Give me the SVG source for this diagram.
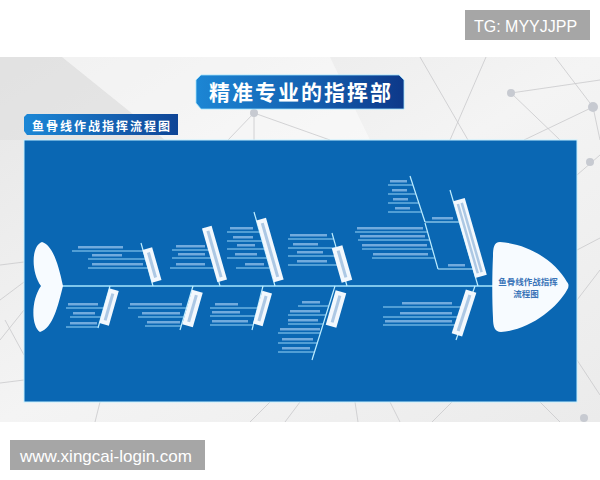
<svg xmlns="http://www.w3.org/2000/svg" width="600" height="480" viewBox="0 0 600 480">
<defs>
<linearGradient id="bg" x1="0" y1="0" x2="1" y2="1"><stop offset="0" stop-color="#e6e6e6"/><stop offset="0.5" stop-color="#f4f4f4"/><stop offset="1" stop-color="#ebebeb"/></linearGradient>
<linearGradient id="ttl" x1="0" y1="0" x2="1" y2="0"><stop offset="0" stop-color="#1c86d4"/><stop offset="0.55" stop-color="#1460b0"/><stop offset="1" stop-color="#0d3889"/></linearGradient>
<linearGradient id="sub" x1="0" y1="0" x2="1" y2="0"><stop offset="0" stop-color="#1b87d6"/><stop offset="1" stop-color="#0f4596"/></linearGradient>
<style>
.wm{fill:#a6a6a6}
.wmt{fill:#ffffff;font-family:"Liberation Sans",Arial,sans-serif}
.net{stroke:#c9c9cc;stroke-width:0.8;fill:none}
.nd{fill:#c7cad1}
.sp{stroke:#a6e6ff;stroke-width:1.6;fill:none}
.bone{stroke:#bfeeff;stroke-width:1.2;fill:none}
.ln{stroke:#a9e2ff;stroke-width:0.9;fill:none}
.tx{fill:#c8e4ff;opacity:0.55}
.box{fill:#f3f8fd}
.boxt{fill:#8fb3d8;opacity:0.7}
.cn{font-family:"Noto Sans CJK SC","Noto Sans CJK TC",sans-serif;font-weight:bold}
</style>
</defs>

<rect x="0" y="0" width="600" height="480" fill="#ffffff"/>
<rect x="0" y="57" width="600" height="365" fill="url(#bg)"/>
<polygon points="0,57 62,57 165,140 0,140" fill="#e0e0e0" opacity="0.6"/>
<polygon points="62,57 330,57 370,140 165,140" fill="#ffffff" opacity="0.45"/>

<g id="network">
<line class="net" x1="254" y1="113" x2="228" y2="140"/>
<line class="net" x1="254" y1="113" x2="254" y2="140"/>
<line class="net" x1="254" y1="113" x2="330" y2="140"/>
<line class="net" x1="486" y1="57" x2="450" y2="140"/>
<line class="net" x1="511" y1="93" x2="600" y2="80"/>
<line class="net" x1="555" y1="57" x2="593" y2="107"/>
<line class="net" x1="593" y1="107" x2="524" y2="140"/>
<line class="net" x1="593" y1="107" x2="600" y2="140"/>
<line class="net" x1="511" y1="93" x2="560" y2="140"/>
<line class="net" x1="420" y1="57" x2="468" y2="140"/>
<line class="net" x1="0" y1="265" x2="24" y2="262"/>
<line class="net" x1="0" y1="300" x2="24" y2="282"/>
<line class="net" x1="0" y1="340" x2="24" y2="310"/>
<line class="net" x1="0" y1="383" x2="24" y2="380"/>
<line class="net" x1="5" y1="320" x2="24" y2="355"/>
<line class="net" x1="577" y1="175" x2="600" y2="155"/>
<line class="net" x1="577" y1="250" x2="600" y2="238"/>
<line class="net" x1="577" y1="300" x2="600" y2="270"/>
<line class="net" x1="577" y1="360" x2="600" y2="395"/>
<line class="net" x1="95" y1="422" x2="100" y2="402"/>
<line class="net" x1="250" y1="422" x2="270" y2="402"/>
<line class="net" x1="285" y1="422" x2="300" y2="402"/>
<line class="net" x1="358" y1="422" x2="355" y2="402"/>
<line class="net" x1="400" y1="422" x2="390" y2="402"/>
<line class="net" x1="432" y1="422" x2="452" y2="402"/>
<line class="net" x1="540" y1="402" x2="560" y2="422"/>
<circle class="nd" cx="254" cy="113" r="4"/>
<circle class="nd" cx="511" cy="93" r="4"/>
<circle class="nd" cx="593" cy="107" r="5"/>
<circle class="nd" cx="590" cy="162" r="4"/>
<circle class="nd" cx="584" cy="418" r="4"/>
</g>

<g id="title">
<polygon points="201,75 399,75 404,80 404,109 201,109 196,103 196,80" fill="url(#ttl)" stroke="#9fe3ff" stroke-width="0.8"/>
<text class="cn" x="209" y="100" font-size="21" letter-spacing="2" fill="#ffffff">精准专业的指挥部</text>
</g>

<g id="subtitle">
<polygon points="27,114 178,114 178,135 27,135 24,131 24,117" fill="url(#sub)"/>
<text class="cn" x="32" y="130.5" font-size="12" letter-spacing="2" fill="#ffffff">鱼骨线作战指挥流程图</text>
</g>

<rect id="panel" x="24" y="140" width="553" height="262" fill="#0a67b3" stroke="#c4f0ff" stroke-width="1"/>

<g id="connectors">
<line class="sp" x1="60" y1="286" x2="496" y2="286"/>
<line class="bone" x1="141" y1="243" x2="153" y2="286"/>
<line class="bone" x1="204" y1="228" x2="220" y2="286"/>
<line class="bone" x1="254" y1="212" x2="275" y2="286"/>
<line class="bone" x1="332" y1="233" x2="347" y2="286"/>
<line class="bone" x1="450" y1="190" x2="478" y2="286"/>
<line class="bone" x1="410" y1="176" x2="425" y2="222"/>
<line class="bone" x1="425" y1="222" x2="460" y2="222"/>
<line class="bone" x1="425" y1="223" x2="438" y2="269"/>
<line class="bone" x1="438" y1="269" x2="473" y2="269"/>
<line class="bone" x1="110" y1="286" x2="98" y2="328"/>
<line class="bone" x1="193" y1="286" x2="180" y2="330"/>
<line class="bone" x1="263" y1="286" x2="252" y2="330"/>
<line class="bone" x1="335" y1="286" x2="312" y2="360"/>
<line class="bone" x1="475" y1="286" x2="456" y2="340"/>
<line class="ln" x1="72" y1="251" x2="143" y2="251"/>
<line class="ln" x1="88" y1="259" x2="145.5" y2="259"/>
<line class="ln" x1="88" y1="268" x2="148" y2="268"/>
<line class="ln" x1="172" y1="250" x2="210" y2="250"/>
<line class="ln" x1="172" y1="258" x2="212" y2="258"/>
<line class="ln" x1="170" y1="268" x2="215" y2="268"/>
<line class="ln" x1="227" y1="232" x2="260" y2="232"/>
<line class="ln" x1="227" y1="241" x2="262.4" y2="241"/>
<line class="ln" x1="227" y1="249" x2="264.7" y2="249"/>
<line class="ln" x1="227" y1="258" x2="267" y2="258"/>
<line class="ln" x1="236" y1="268" x2="270" y2="268"/>
<line class="ln" x1="288" y1="239" x2="333.7" y2="239"/>
<line class="ln" x1="288" y1="248" x2="336" y2="248"/>
<line class="ln" x1="288" y1="256" x2="338.5" y2="256"/>
<line class="ln" x1="288" y1="265" x2="341" y2="265"/>
<line class="ln" x1="388" y1="185" x2="413" y2="185"/>
<line class="ln" x1="388" y1="194" x2="416" y2="194"/>
<line class="ln" x1="388" y1="203" x2="419" y2="203"/>
<line class="ln" x1="388" y1="212" x2="422" y2="212"/>
<line class="ln" x1="355" y1="232" x2="427.5" y2="232"/>
<line class="ln" x1="358" y1="240" x2="430" y2="240"/>
<line class="ln" x1="362" y1="249" x2="432.4" y2="249"/>
<line class="ln" x1="372" y1="258" x2="435" y2="258"/>
<line class="ln" x1="66" y1="308" x2="103.7" y2="308"/>
<line class="ln" x1="70" y1="317" x2="101" y2="317"/>
<line class="ln" x1="66" y1="327" x2="98.3" y2="327"/>
<line class="ln" x1="128" y1="308" x2="186.4" y2="308"/>
<line class="ln" x1="138" y1="317" x2="183.7" y2="317"/>
<line class="ln" x1="145" y1="326" x2="181" y2="326"/>
<line class="ln" x1="210" y1="308" x2="257.5" y2="308"/>
<line class="ln" x1="210" y1="316" x2="255.5" y2="316"/>
<line class="ln" x1="210" y1="325" x2="253" y2="325"/>
<line class="ln" x1="298" y1="306" x2="329" y2="306"/>
<line class="ln" x1="288" y1="315" x2="326" y2="315"/>
<line class="ln" x1="288" y1="324" x2="323.6" y2="324"/>
<line class="ln" x1="278" y1="333" x2="321" y2="333"/>
<line class="ln" x1="278" y1="343" x2="318" y2="343"/>
<line class="ln" x1="278" y1="352" x2="315" y2="352"/>
<line class="ln" x1="383" y1="307" x2="467.7" y2="307"/>
<line class="ln" x1="383" y1="317" x2="464" y2="317"/>
<line class="ln" x1="383" y1="325" x2="461.5" y2="325"/>
</g>

<g id="tail">
<path d="M63,286 C58,262 52,245 42,242 C31,246 31,272 41,286 C31,300 31,326 40,332 C53,328 58,306 63,286 Z" fill="#f7fbff"/>
</g>

<g id="head">
<path d="M500,242 C494,242 493,248 493,256 C492,276 492,300 493,318 C493,327 495,332 501,332 C530,330 557,308 567,290 C569,287 569,284 567,282 C556,262 530,244 500,242 Z" fill="#f7fbff"/>
<text class="cn" x="528" y="285" font-size="8.5" text-anchor="middle" fill="#3a74b8">鱼骨线作战指挥</text>
<text class="cn" x="526" y="297" font-size="8.5" text-anchor="middle" fill="#3a74b8">流程图</text>
</g>

<g id="bone-u1">
<g transform="translate(152,265) rotate(74)"><rect class="box" x="-17" y="-5" width="34" height="10"/><rect class="boxt" x="-13" y="-1.5" width="26" height="3"/></g>
<rect class="tx" x="78" y="246" width="45" height="2.5"/>
<rect class="tx" x="92" y="254" width="30" height="2.5"/>
<rect class="tx" x="92" y="263" width="51" height="2.5"/>
</g>
<g id="bone-u2">
<g transform="translate(214.5,254) rotate(74)"><rect class="box" x="-28" y="-5" width="56" height="10"/><rect class="boxt" x="-24" y="-1.5" width="48" height="3"/></g>
<rect class="tx" x="176" y="245" width="29" height="2.5"/>
<rect class="tx" x="178" y="253" width="27" height="2.5"/>
<rect class="tx" x="176" y="263" width="29" height="2.5"/>
</g>
<g id="bone-u3">
<g transform="translate(270,250) rotate(74)"><rect class="box" x="-32" y="-5" width="64" height="10"/><rect class="boxt" x="-28" y="-1.5" width="56" height="3"/></g>
<rect class="tx" x="230" y="227" width="23" height="2.5"/>
<rect class="tx" x="233" y="236" width="20" height="2.5"/>
<rect class="tx" x="237" y="244" width="18" height="2.5"/>
<rect class="tx" x="235" y="253" width="22" height="2.5"/>
<rect class="tx" x="245" y="263" width="19" height="2.5"/>
</g>
<g id="bone-u4">
<g transform="translate(342,264) rotate(74)"><rect class="box" x="-18" y="-5.5" width="36" height="11"/><rect class="boxt" x="-14" y="-1.5" width="28" height="3"/></g>
<rect class="tx" x="290" y="234" width="37" height="2.5"/>
<rect class="tx" x="293" y="243" width="25" height="2.5"/>
<rect class="tx" x="297" y="251" width="26" height="2.5"/>
<rect class="tx" x="297" y="260" width="30" height="2.5"/>
</g>
<g id="bone-u5">
<g transform="translate(470,238) rotate(74)"><rect class="box" x="-40" y="-6" width="80" height="12"/><rect class="boxt" x="-36" y="-3" width="72" height="2.5"/><rect class="boxt" x="-36" y="1" width="72" height="2.5"/></g>
<rect class="tx" x="432" y="217" width="21" height="2.5"/>
<rect class="tx" x="448" y="264" width="17" height="2.5"/>
<rect class="tx" x="390" y="180" width="17" height="2.5"/>
<rect class="tx" x="392" y="189" width="15" height="2.5"/>
<rect class="tx" x="393" y="198" width="15" height="2.5"/>
<rect class="tx" x="395" y="207" width="15" height="2.5"/>
<rect class="tx" x="357" y="227" width="66" height="2.5"/>
<rect class="tx" x="360" y="235" width="65" height="2.5"/>
<rect class="tx" x="362" y="244" width="65" height="2.5"/>
<rect class="tx" x="373" y="253" width="55" height="2.5"/>
</g>
<g id="bone-l1">
<g transform="translate(109,307) rotate(-74)"><rect class="box" x="-18" y="-5" width="36" height="10"/><rect class="boxt" x="-14" y="-1.5" width="28" height="3"/></g>
<rect class="tx" x="68" y="303" width="30" height="2.5"/>
<rect class="tx" x="73" y="312" width="22" height="2.5"/>
<rect class="tx" x="70" y="322" width="27" height="2.5"/>
</g>
<g id="bone-l2">
<g transform="translate(192.5,308.5) rotate(-74)"><rect class="box" x="-18" y="-5.5" width="36" height="11"/><rect class="boxt" x="-14" y="-1.5" width="28" height="3"/></g>
<rect class="tx" x="130" y="303" width="52" height="2.5"/>
<rect class="tx" x="142" y="312" width="38" height="2.5"/>
<rect class="tx" x="147" y="321" width="33" height="2.5"/>
</g>
<g id="bone-l3">
<g transform="translate(262.5,308.5) rotate(-74)"><rect class="box" x="-17" y="-5" width="34" height="10"/><rect class="boxt" x="-13" y="-1.5" width="26" height="3"/></g>
<rect class="tx" x="215" y="303" width="23" height="2.5"/>
<rect class="tx" x="212" y="311" width="28" height="2.5"/>
<rect class="tx" x="212" y="320" width="36" height="2.5"/>
</g>
<g id="bone-l4">
<g transform="translate(336,309) rotate(-74)"><rect class="box" x="-18" y="-5.5" width="36" height="11"/><rect class="boxt" x="-14" y="-1.5" width="28" height="3"/></g>
<rect class="tx" x="302" y="301" width="18" height="2.5"/>
<rect class="tx" x="290" y="310" width="30" height="2.5"/>
<rect class="tx" x="288" y="319" width="30" height="2.5"/>
<rect class="tx" x="280" y="328" width="40" height="2.5"/>
<rect class="tx" x="282" y="338" width="31" height="2.5"/>
<rect class="tx" x="282" y="347" width="28" height="2.5"/>
</g>
<g id="bone-l5">
<g transform="translate(464,313) rotate(-72)"><rect class="box" x="-23" y="-5.5" width="46" height="11"/><rect class="boxt" x="-19" y="-1.5" width="38" height="3"/></g>
<rect class="tx" x="402" y="302" width="50" height="2.5"/>
<rect class="tx" x="400" y="312" width="52" height="2.5"/>
<rect class="tx" x="385" y="320" width="67" height="2.5"/>
</g>

<g id="watermark-top">
<rect class="wm" x="465" y="10" width="125" height="30"/>
<text class="wmt" x="474" y="31.5" font-size="16">TG: MYYJJPP</text>
</g>
<g id="watermark-bottom">
<rect class="wm" x="10" y="440" width="195" height="30"/>
<text class="wmt" x="20" y="461.5" font-size="17">www.xingcai-login.com</text>
</g>
</svg>
